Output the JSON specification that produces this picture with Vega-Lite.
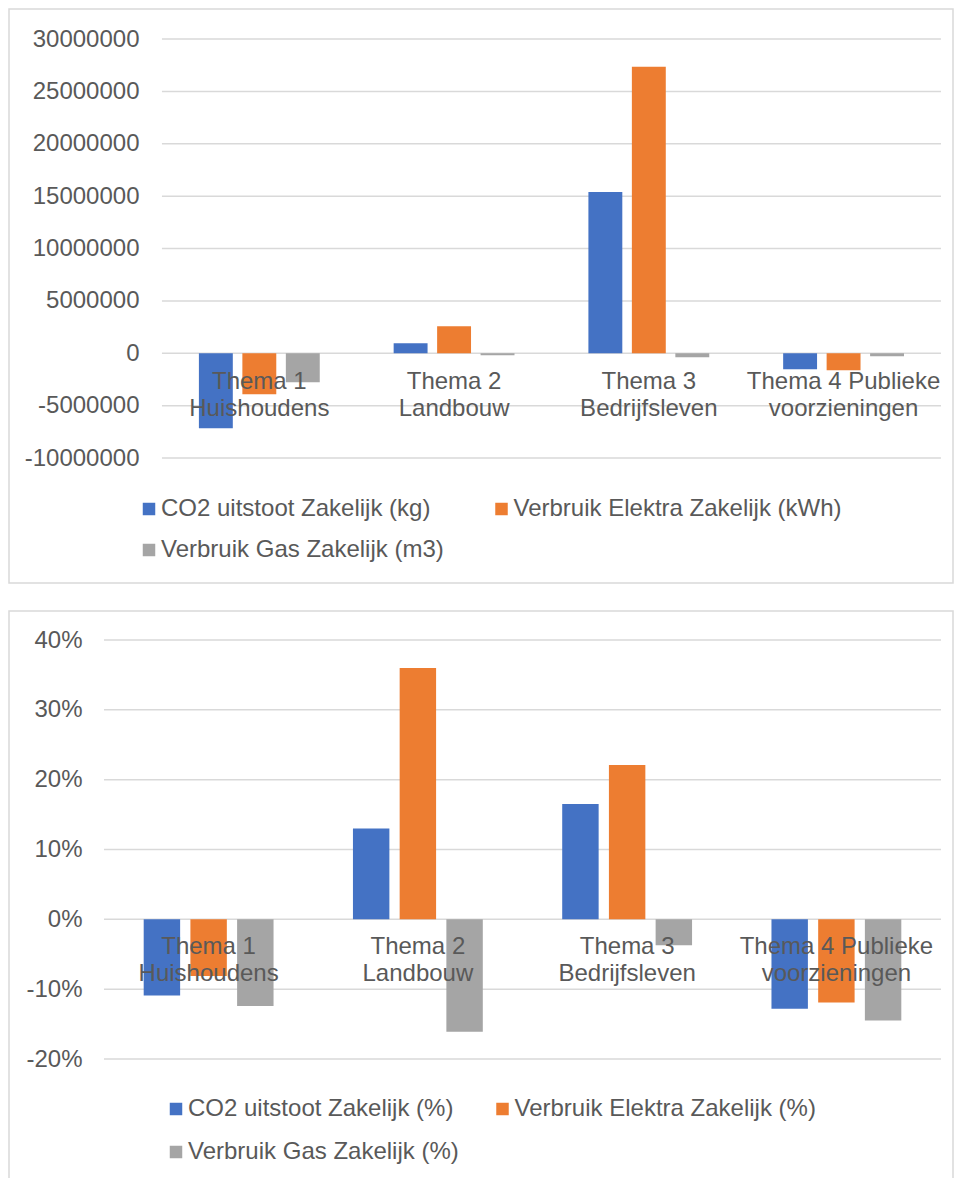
{
  "$schema": "https://vega.github.io/schema/vega-lite/v6.json",
  "padding": {"left": 8, "top": 8, "right": 2, "bottom": 0},
  "background": "white",
  "spacing": 26,
  "config": {
    "font": "Liberation Sans",
    "view": {"stroke": "#D9D9D9", "strokeWidth": 1.5},
    "axis": {"labelFont": "Liberation Sans", "labelColor": "#595959", "labelFontSize": 24},
    "legend": {"labelFont": "Liberation Sans", "labelColor": "#595959", "labelFontSize": 24}
  },
  "resolve": {
    "scale": {"x": "independent", "y": "independent", "color": "independent", "xOffset": "independent"},
    "legend": {"color": "independent"}
  },
  "vconcat": [
    {
      "width": 944,
      "height": 574,
      "layer": [
        {
          "data": {"values": [
            {"tick": -10000000}, {"tick": -5000000}, {"tick": 0}, {"tick": 5000000}, {"tick": 10000000},
            {"tick": 15000000}, {"tick": 20000000}, {"tick": 25000000}, {"tick": 30000000}
          ]},
          "mark": {"type": "rule", "color": "#D9D9D9", "strokeWidth": 1.5},
          "encoding": {
            "y": {"field": "tick", "type": "quantitative"},
            "x": {"datum": "Thema 1 Huishoudens", "type": "nominal", "bandPosition": 0},
            "x2": {"datum": "Thema 4 Publieke voorzieningen", "bandPosition": 1}
          }
        },
        {
          "data": {"values": [
            {"Thema": "Thema 1 Huishoudens", "Reeks": "CO2 uitstoot Zakelijk (kg)", "Waarde": -7160000},
            {"Thema": "Thema 1 Huishoudens", "Reeks": "Verbruik Elektra Zakelijk (kWh)", "Waarde": -3910000},
            {"Thema": "Thema 1 Huishoudens", "Reeks": "Verbruik Gas Zakelijk (m3)", "Waarde": -2770000},
            {"Thema": "Thema 2 Landbouw", "Reeks": "CO2 uitstoot Zakelijk (kg)", "Waarde": 950000},
            {"Thema": "Thema 2 Landbouw", "Reeks": "Verbruik Elektra Zakelijk (kWh)", "Waarde": 2580000},
            {"Thema": "Thema 2 Landbouw", "Reeks": "Verbruik Gas Zakelijk (m3)", "Waarde": -190000},
            {"Thema": "Thema 3 Bedrijfsleven", "Reeks": "CO2 uitstoot Zakelijk (kg)", "Waarde": 15400000},
            {"Thema": "Thema 3 Bedrijfsleven", "Reeks": "Verbruik Elektra Zakelijk (kWh)", "Waarde": 27350000},
            {"Thema": "Thema 3 Bedrijfsleven", "Reeks": "Verbruik Gas Zakelijk (m3)", "Waarde": -380000},
            {"Thema": "Thema 4 Publieke voorzieningen", "Reeks": "CO2 uitstoot Zakelijk (kg)", "Waarde": -1530000},
            {"Thema": "Thema 4 Publieke voorzieningen", "Reeks": "Verbruik Elektra Zakelijk (kWh)", "Waarde": -1620000},
            {"Thema": "Thema 4 Publieke voorzieningen", "Reeks": "Verbruik Gas Zakelijk (m3)", "Waarde": -290000}
          ]},
          "mark": {"type": "bar"},
          "encoding": {
            "x": {
              "field": "Thema", "type": "nominal", "sort": null,
              "scale": {"domain": ["Thema 1 Huishoudens", "Thema 2 Landbouw", "Thema 3 Bedrijfsleven", "Thema 4 Publieke voorzieningen"], "paddingInner": 0, "paddingOuter": 0.4236, "align": 0.927},
              "axis": {
                "orient": "bottom", "offset": -230, "title": null, "domain": false, "ticks": false, "grid": false,
                "bandPosition": 0.5, "labelAlign": "center",
                "labelPadding": 28, "labelAngle": 0, "labelLimit": 0, "labelOverlap": false, "labelBound": false,
                "labelLineHeight": 27, "zindex": 1,
                "labelExpr": "[slice(datum.label, 0, lastindexof(datum.label, ' ')), slice(datum.label, lastindexof(datum.label, ' ') + 1)]"
              }
            },
            "xOffset": {
              "field": "Reeks", "type": "nominal",
              "sort": ["CO2 uitstoot Zakelijk (kg)", "Verbruik Elektra Zakelijk (kWh)", "Verbruik Gas Zakelijk (m3)"],
              "scale": {"paddingInner": 0.22, "paddingOuter": 0.85}
            },
            "y": {
              "field": "Waarde", "type": "quantitative",
              "scale": {"domain": [-21933000, 32864000], "nice": false, "zero": false},
              "axis": {
                "orient": "left", "offset": -130, "labelPadding": 0, "ticks": false, "domain": false, "grid": false,
                "title": null, "labelOverlap": false,
                "values": [-10000000, -5000000, 0, 5000000, 10000000, 15000000, 20000000, 25000000, 30000000],
                "labelExpr": "'' + datum.value"
              }
            },
            "color": {
              "field": "Reeks", "type": "nominal",
              "scale": {"domain": ["CO2 uitstoot Zakelijk (kg)", "Verbruik Elektra Zakelijk (kWh)", "Verbruik Gas Zakelijk (m3)"], "range": ["#4472C4", "#ED7D31", "#A5A5A5"]},
              "legend": {
                "orient": "none", "legendX": 128, "legendY": 488, "direction": "horizontal", "columns": 2,
                "title": null, "symbolType": "square", "symbolSize": 156, "symbolStrokeWidth": 0,
                "labelOffset": 0, "columnPadding": 45.5, "rowPadding": 17, "labelLimit": 0, "padding": 0
              }
            }
          }
        }
      ]
    },
    {
      "width": 944,
      "height": 574,
      "layer": [
        {
          "data": {"values": [
            {"tick": -0.2}, {"tick": -0.1}, {"tick": 0}, {"tick": 0.1}, {"tick": 0.2}, {"tick": 0.3}, {"tick": 0.4}
          ]},
          "mark": {"type": "rule", "color": "#D9D9D9", "strokeWidth": 1.5},
          "encoding": {
            "y": {"field": "tick", "type": "quantitative"},
            "x": {"datum": "Thema 1 Huishoudens", "type": "nominal", "bandPosition": 0},
            "x2": {"datum": "Thema 4 Publieke voorzieningen", "bandPosition": 1}
          }
        },
        {
          "data": {"values": [
            {"Thema": "Thema 1 Huishoudens", "Reeks": "CO2 uitstoot Zakelijk (%)", "Waarde": -0.109},
            {"Thema": "Thema 1 Huishoudens", "Reeks": "Verbruik Elektra Zakelijk (%)", "Waarde": -0.081},
            {"Thema": "Thema 1 Huishoudens", "Reeks": "Verbruik Gas Zakelijk (%)", "Waarde": -0.124},
            {"Thema": "Thema 2 Landbouw", "Reeks": "CO2 uitstoot Zakelijk (%)", "Waarde": 0.130},
            {"Thema": "Thema 2 Landbouw", "Reeks": "Verbruik Elektra Zakelijk (%)", "Waarde": 0.360},
            {"Thema": "Thema 2 Landbouw", "Reeks": "Verbruik Gas Zakelijk (%)", "Waarde": -0.161},
            {"Thema": "Thema 3 Bedrijfsleven", "Reeks": "CO2 uitstoot Zakelijk (%)", "Waarde": 0.165},
            {"Thema": "Thema 3 Bedrijfsleven", "Reeks": "Verbruik Elektra Zakelijk (%)", "Waarde": 0.221},
            {"Thema": "Thema 3 Bedrijfsleven", "Reeks": "Verbruik Gas Zakelijk (%)", "Waarde": -0.037},
            {"Thema": "Thema 4 Publieke voorzieningen", "Reeks": "CO2 uitstoot Zakelijk (%)", "Waarde": -0.128},
            {"Thema": "Thema 4 Publieke voorzieningen", "Reeks": "Verbruik Elektra Zakelijk (%)", "Waarde": -0.119},
            {"Thema": "Thema 4 Publieke voorzieningen", "Reeks": "Verbruik Gas Zakelijk (%)", "Waarde": -0.145}
          ]},
          "mark": {"type": "bar"},
          "encoding": {
            "x": {
              "field": "Thema", "type": "nominal", "sort": null,
              "scale": {"domain": ["Thema 1 Huishoudens", "Thema 2 Landbouw", "Thema 3 Bedrijfsleven", "Thema 4 Publieke voorzieningen"], "paddingInner": 0, "paddingOuter": 0.2556, "align": 0.888},
              "axis": {
                "orient": "bottom", "offset": -266, "title": null, "domain": false, "ticks": false, "grid": false,
                "bandPosition": 0.5, "labelAlign": "center",
                "labelPadding": 27, "labelAngle": 0, "labelLimit": 0, "labelOverlap": false, "labelBound": false,
                "labelLineHeight": 27, "zindex": 1,
                "labelExpr": "[slice(datum.label, 0, lastindexof(datum.label, ' ')), slice(datum.label, lastindexof(datum.label, ' ') + 1)]"
              }
            },
            "xOffset": {
              "field": "Reeks", "type": "nominal",
              "sort": ["CO2 uitstoot Zakelijk (%)", "Verbruik Elektra Zakelijk (%)", "Verbruik Gas Zakelijk (%)"],
              "scale": {"paddingInner": 0.22, "paddingOuter": 0.85}
            },
            "y": {
              "field": "Waarde", "type": "quantitative",
              "scale": {"domain": [-0.3804, 0.44153], "nice": false, "zero": false},
              "axis": {
                "orient": "left", "offset": -73, "labelPadding": 0, "ticks": false, "domain": false, "grid": false,
                "title": null, "labelOverlap": false,
                "values": [-0.2, -0.1, 0, 0.1, 0.2, 0.3, 0.4],
                "labelExpr": "'' + round(datum.value * 100) + '%'"
              }
            },
            "color": {
              "field": "Reeks", "type": "nominal",
              "scale": {"domain": ["CO2 uitstoot Zakelijk (%)", "Verbruik Elektra Zakelijk (%)", "Verbruik Gas Zakelijk (%)"], "range": ["#4472C4", "#ED7D31", "#A5A5A5"]},
              "legend": {
                "orient": "none", "legendX": 155, "legendY": 486, "direction": "horizontal", "columns": 2,
                "title": null, "symbolType": "square", "symbolSize": 156, "symbolStrokeWidth": 0,
                "labelOffset": 0, "columnPadding": 31.5, "rowPadding": 19, "labelLimit": 0, "padding": 0
              }
            }
          }
        }
      ]
    }
  ]
}
